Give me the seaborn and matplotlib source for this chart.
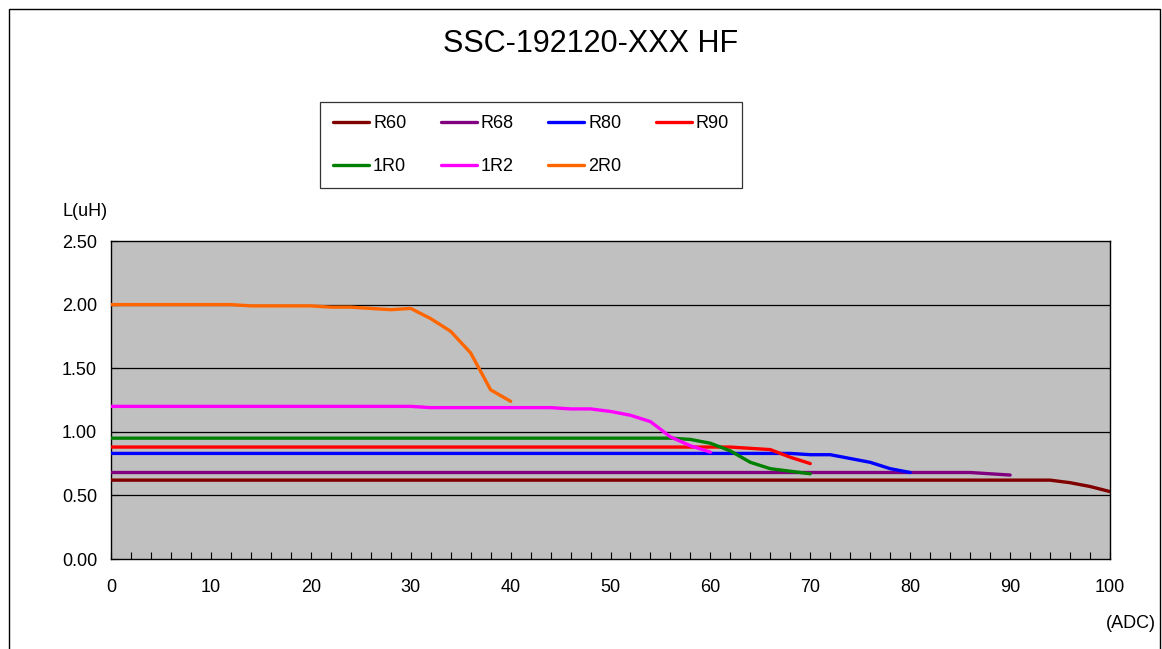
import numpy as np
import pandas as pd
import matplotlib
matplotlib.use("Agg")
import matplotlib.pyplot as plt
import seaborn as sns
from matplotlib.patches import Rectangle
from matplotlib.ticker import MultipleLocator, FormatStrFormatter

# ==========================================================
# DATA
# ==========================================================

x_r60 = [0, 10, 20, 30, 40, 50, 60, 70, 80, 90, 94, 96, 98, 100]
l_r60 = [0.62, 0.62, 0.62, 0.62, 0.62, 0.62, 0.62, 0.62, 0.62, 0.62, 0.62, 0.60, 0.57, 0.53]

x_r68 = [0, 10, 20, 30, 40, 50, 60, 70, 80, 86, 88, 90]
l_r68 = [0.68, 0.68, 0.68, 0.68, 0.68, 0.68, 0.68, 0.68, 0.68, 0.68, 0.67, 0.66]

x_r80 = [0, 10, 20, 30, 40, 50, 60, 68, 70, 72, 74, 76, 78, 80]
l_r80 = [0.83, 0.83, 0.83, 0.83, 0.83, 0.83, 0.83, 0.83, 0.82, 0.82, 0.79, 0.76, 0.71, 0.68]

x_r90 = [0, 10, 20, 30, 40, 50, 60, 62, 64, 66, 68, 70]
l_r90 = [0.88, 0.88, 0.88, 0.88, 0.88, 0.88, 0.88, 0.88, 0.87, 0.86, 0.80, 0.75]

x_1r0 = [0, 10, 20, 30, 40, 50, 56, 58, 60, 62, 64, 66, 68, 70]
l_1r0 = [0.95, 0.95, 0.95, 0.95, 0.95, 0.95, 0.95, 0.94, 0.91, 0.85, 0.76, 0.71, 0.69, 0.67]

x_1r2 = [0, 10, 20, 30, 32, 40, 44, 46, 48, 50, 52, 54, 56, 58, 60]
l_1r2 = [1.20, 1.20, 1.20, 1.20, 1.19, 1.19, 1.19, 1.18, 1.18, 1.16, 1.13, 1.08, 0.96, 0.89, 0.84]

x_2r0 = [0, 4, 8, 12, 14, 18, 20, 22, 24, 26, 28, 30, 32, 34, 36, 38, 40]
l_2r0 = [2.00, 2.00, 2.00, 2.00, 1.99, 1.99, 1.99, 1.98, 1.98, 1.97, 1.96, 1.97, 1.89, 1.79, 1.62, 1.33, 1.24]

series_names = ["R60", "R68", "R80", "R90", "1R0", "1R2", "2R0"]
series_x = [x_r60, x_r68, x_r80, x_r90, x_1r0, x_1r2, x_2r0]
series_l = [l_r60, l_r68, l_r80, l_r90, l_1r0, l_1r2, l_2r0]
series_colors = ["#800000", "#800080", "#0000FF", "#FF0000",
                 "#008000", "#FF00FF", "#FF6600"]

x_ticks = [0, 10, 20, 30, 40, 50, 60, 70, 80, 90, 100]
y_ticks = [0.00, 0.50, 1.00, 1.50, 2.00, 2.50]

title = "SSC-192120-XXX HF"

# ==========================================================
# BUILD LONG TABLE
# ==========================================================

frames = []
for name, xs, ls in zip(series_names, series_x, series_l):
    frames.append(pd.DataFrame({"ADC": xs, "L": ls, "part": name}))
df = pd.concat(frames, ignore_index=True)

palette = dict(zip(series_names, series_colors))

# ==========================================================
# PLOT
# ==========================================================

sns.set_theme(style="white")
plt.rcParams["font.family"] = ["Liberation Sans", "DejaVu Sans"]
plt.rcParams["text.color"] = "black"
plt.rcParams["xtick.color"] = "black"
plt.rcParams["ytick.color"] = "black"
plt.rcParams["xtick.labelcolor"] = "black"
plt.rcParams["ytick.labelcolor"] = "black"

W, H = 1162, 649
fig = plt.figure(figsize=(W / 100, H / 100), dpi=100)
fig.patch.set_facecolor("white")

ax = fig.add_axes([111 / W, (H - 559) / H, 999 / W, 318 / H])
ax.set_facecolor("#C0C0C0")

sns.lineplot(
    data=df,
    x="ADC",
    y="L",
    hue="part",
    hue_order=series_names,
    palette=palette,
    linewidth=2.4,
    sort=False,
    estimator=None,
    ax=ax,
    legend=False,
    zorder=3
)

ax.set_xlim(0, 100)
ax.set_ylim(0, 2.5)
ax.set_xticks(x_ticks)
ax.set_yticks(y_ticks)
ax.xaxis.set_minor_locator(MultipleLocator(2))
ax.yaxis.set_major_formatter(FormatStrFormatter("%.2f"))
ax.set_xlabel("")
ax.set_ylabel("")

for y in y_ticks[1:-1]:
    ax.axhline(y, color="black", linewidth=0.9, zorder=1)

for s in ax.spines.values():
    s.set_color("black")
    s.set_linewidth(1.0)

ax.tick_params(axis="x", which="both", direction="in", length=5,
               width=0.8, labelsize=13, pad=14.5, bottom=True)
ax.tick_params(axis="y", which="major", direction="in", length=5,
               width=0.8, labelsize=13, pad=10, left=True)

# Legend: row-wise order with column-major fill
order = [0, 4, 1, 5, 2, 6, 3]
handles = [plt.Line2D([], [], color=series_colors[i], linewidth=2.4) for i in order]
labels = [series_names[i] for i in order]
leg = fig.legend(
    handles, labels,
    loc="upper left",
    bbox_to_anchor=(320 / W, 1 - 102 / H),
    ncol=4,
    frameon=True,
    fancybox=False,
    fontsize=13,
    handlelength=2.0,
    handletextpad=0.22,
    columnspacing=1.9,
    labelspacing=1.45,
    borderpad=0.72,
    borderaxespad=0
)
leg.get_frame().set_edgecolor("black")
leg.get_frame().set_linewidth(0.9)

fig.text(591 / W, 1 - 44 / H, title, ha="center", va="center", fontsize=22)
fig.text(85 / W, 1 - 212 / H, "L(uH)", ha="center", va="center", fontsize=13)
fig.text(1131 / W, 1 - 623 / H, "(ADC)", ha="center", va="center", fontsize=13)

# Outer chart border
fig.patches.append(Rectangle(
    (9 / W, -0.02), (1160 - 9) / W, (H - 9) / H + 0.02,
    transform=fig.transFigure, fill=False,
    edgecolor="black", linewidth=1.0
))

fig.savefig("out.png", dpi=100)
